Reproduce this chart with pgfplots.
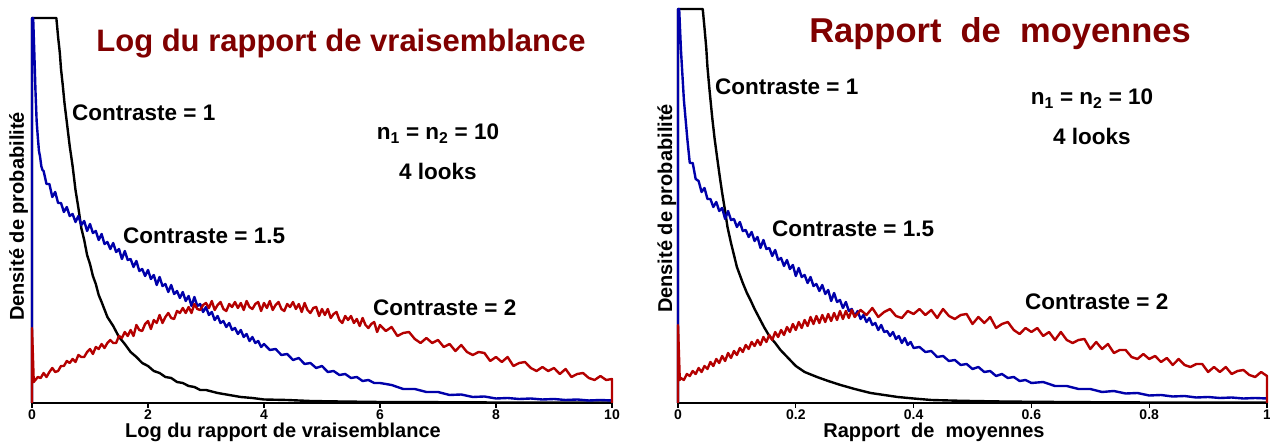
\documentclass[border=0pt]{standalone}
\usepackage{fontspec}
\setmainfont{Liberation Sans}
\usepackage{pgfplots}
\pgfplotsset{compat=1.18}
\definecolor{cblue}{RGB}{0,0,170}
\definecolor{cred}{RGB}{180,0,0}
\definecolor{ctitle}{RGB}{128,0,0}
\pgfplotsset{myax/.style={scale only axis, anchor=south west, clip=false,
  axis x line*=bottom, axis y line=none, ytick=\empty, ymin=0,
  axis line style={line width=2pt, black},
  xtick align=outside, major tick length=5pt,
  tick style={line width=1.3pt, black},
  xticklabel={\fontsize{14}{14}\selectfont\bfseries\pgfmathprintnumber[assume math mode=true]{\tick}},
  xticklabel style={inner sep=2pt}},
  curve/.style={line width=2.4pt, line join=round}}
\begin{document}
\begin{tikzpicture}
\useasboundingbox (0pt,0pt) rectangle (1270pt,444pt);
% ---------------- left axis ----------------
\begin{axis}[myax, at={(32pt,41pt)}, width=580pt, height=388pt,
  xmin=0, xmax=10, ymax=388, xtick={0,2,4,6,8,10}]
\addplot[curve, black] table {
x y
0 0
0 385
0.42 385
0.45 366
0.48 350
0.50 334
0.53 318
0.56 300
0.60 281
0.65 257
0.70 237
0.75 213
0.80 195
0.85 175
0.90 163
0.95 148
1.00 139
1.05 127
1.10 119
1.15 108
1.20 101
1.30 86
1.40 77
1.50 66
1.60 59
1.70 51
1.80 46
1.90 40
2.00 37
2.10 32
2.20 30
2.30 26
2.40 25
2.50 21
2.60 20
2.70 17
2.80 16
2.90 13
3.00 13
3.20 10
3.40 8
3.60 6
3.80 5
4.00 3.5
4.40 3
4.80 2
5.20 1.6
5.60 1.3
6.00 1
7.00 0.8
8.00 0.5
9.00 0.4
10.00 0.3
};
\addplot[curve, cblue] table {
x y
0 0
0 385
0.02 385
0.04 350
0.06 312
0.08 282
0.10 266
0.12 252
0.14 246
0.16 237
0.18 233
0.20 232
0.25 219
0.30 219
0.35 206
0.40 211
0.45 200
0.50 200
0.55 191
0.60 196
0.65 187
0.70 189
0.75 181
0.80 187
0.85 178
0.90 182
0.95 172
1.00 179
1.05 170
1.10 172
1.15 163
1.20 169
1.25 159
1.30 161
1.35 154
1.40 160
1.45 151
1.50 154
1.55 144
1.60 152
1.65 143
1.70 144
1.75 136
1.80 142
1.85 132
1.90 134
1.95 127
2.00 133
2.05 124
2.10 128
2.15 118
2.20 126
2.25 117
2.30 119
2.35 111
2.40 118
2.45 109
2.50 112
2.55 105
2.60 111
2.65 102
2.70 107
2.75 97
2.80 106
2.85 97
2.90 99
2.95 91
3.00 96
3.05 88
3.10 91
3.15 83
3.20 87
3.25 80
3.30 82
3.35 76
3.40 80
3.45 73
3.50 75
3.55 69
3.60 73
3.65 66
3.70 69
3.75 62
3.80 66
3.85 60
3.90 62
3.95 56
4.00 59
4.10 53
4.20 54
4.30 48
4.40 49
4.50 43
4.60 45
4.70 39
4.80 40
4.90 35
5.00 37
5.10 31
5.20 32
5.30 28
5.40 29
5.50 25
5.60 26
5.70 22
5.80 23
5.90 20
6.00 20
6.20 18
6.40 14
6.60 14
6.80 11
7.00 11
7.20 8
7.40 8.5
7.60 6
7.80 6.5
8.00 4.5
8.20 5
8.40 4
8.60 4.5
8.80 3.5
9.00 4
9.20 3
9.40 3.5
9.60 2.5
9.80 3
10.00 2.5
};
\addplot[curve, cred] table {
x y
0 0
0 75
0.03 21
0.10 26
0.15 25
0.20 30
0.25 26
0.30 31
0.35 35
0.40 31
0.45 32
0.50 37
0.55 37
0.60 42
0.65 40
0.70 44
0.75 41
0.80 48
0.85 46
0.90 46
0.95 51
1.00 54
1.05 49
1.10 56
1.15 54
1.20 59
1.25 55
1.30 60
1.35 63
1.40 60
1.45 60
1.50 67
1.55 65
1.60 71
1.65 67
1.70 73
1.75 67
1.80 78
1.85 73
1.90 72
1.95 79
2.00 82
2.05 74
2.10 83
2.15 80
2.20 88
2.25 80
2.30 86
2.35 90
2.40 85
2.45 84
2.50 92
2.55 90
2.60 95
2.65 90
2.70 96
2.75 90
2.80 99
2.85 94
2.90 93
2.95 98
3.00 100
3.05 95
3.10 102
3.15 93
3.20 98
3.25 101
3.30 94
3.35 92
3.40 99
3.45 96
3.50 101
3.55 95
3.60 100
3.65 93
3.70 102
3.75 96
3.80 94
3.85 99
3.90 101
3.95 92
4.00 100
4.05 95
4.10 102
4.15 93
4.20 98
4.25 101
4.30 94
4.35 92
4.40 99
4.45 96
4.50 101
4.55 94
4.60 99
4.65 91
4.70 100
4.75 93
4.80 90
4.85 95
4.90 96
4.95 87
5.00 94
5.05 88
5.10 94
5.15 85
5.20 89
5.25 91
5.30 83
5.35 80
5.40 87
5.45 83
5.50 87
5.55 80
5.60 84
5.65 77
5.70 85
5.75 78
5.80 75
5.85 79
5.90 81
5.95 71
6.00 78
6.10 72
6.20 76
6.30 67
6.40 70
6.50 71
6.60 64
6.70 60
6.80 65
6.90 60
7.00 63
7.10 56
7.20 59
7.30 52
7.40 58
7.50 51
7.60 48
7.70 51
7.80 50
7.90 42
8.00 46
8.10 41
8.20 46
8.30 37
8.40 40
8.50 41
8.60 35
8.70 32
8.80 36
8.90 32
9.00 35
9.10 29
9.20 34
9.30 26
9.40 29
9.50 30
9.60 25
9.70 23
9.80 27
9.90 23
10.00 24
10.00 0
};
\end{axis}
% ---------------- right axis ----------------
\begin{axis}[myax, at={(678pt,41pt)}, width=589pt, height=396pt,
  xmin=0, xmax=1, ymax=396, xtick={0,0.2,0.4,0.6,0.8,1}]
\addplot[curve, black] table {
x y
0 0
0 394
0.042 394
0.045 375
0.048 355
0.050 336
0.054 310
0.058 286
0.062 265
0.067 243
0.071 226
0.075 210
0.080 192
0.084 176
0.090 160
0.095 148
0.100 136
0.105 128
0.110 120
0.117 110
0.123 103
0.130 94
0.138 85
0.146 76
0.155 67
0.165 60
0.174 53
0.187 45
0.200 37
0.215 31
0.236 26
0.255 22
0.276 18
0.300 14
0.327 10
0.350 8
0.373 6
0.40 4.5
0.43 3
0.48 2.2
0.55 1.5
0.60 1.2
0.70 0.8
0.80 0.5
0.90 0.4
1.00 0.3
};
\addplot[curve, cblue] table {
x y
0 0
0 394
0.002 394
0.005 353
0.010 303
0.016 263
0.020 240
0.025 240
0.030 224
0.035 222
0.040 211
0.045 215
0.050 204
0.055 204
0.060 196
0.065 201
0.070 192
0.075 195
0.080 184
0.085 192
0.090 183
0.095 184
0.100 176
0.105 181
0.110 172
0.115 173
0.120 166
0.125 171
0.130 162
0.135 166
0.140 155
0.145 163
0.150 154
0.155 155
0.160 147
0.165 153
0.170 143
0.175 145
0.180 137
0.185 143
0.190 134
0.195 138
0.200 127
0.205 135
0.210 126
0.215 128
0.220 120
0.225 126
0.230 117
0.235 119
0.240 112
0.245 118
0.250 109
0.255 113
0.260 102
0.265 110
0.270 101
0.275 103
0.280 95
0.285 101
0.290 92
0.295 94
0.300 87
0.305 92
0.310 84
0.315 88
0.320 81
0.325 85
0.330 78
0.335 80
0.340 73
0.345 78
0.350 71
0.355 72
0.360 67
0.365 71
0.370 64
0.375 67
0.380 60
0.385 65
0.390 58
0.395 61
0.400 55
0.41 56
0.42 51
0.43 52
0.44 46
0.45 47
0.46 42
0.47 43
0.48 38
0.49 39
0.50 34
0.51 36
0.52 31
0.53 32
0.54 27
0.55 29
0.56 25
0.57 26
0.58 22
0.59 23
0.60 20
0.62 21
0.64 17
0.66 17
0.68 14
0.70 14
0.72 11
0.74 12
0.76 9.5
0.78 10
0.80 7.5
0.82 8
0.84 6.5
0.86 7
0.88 5.5
0.90 6
0.92 5
0.94 5.5
0.96 4.5
0.98 5
1.00 4.5
};
\addplot[curve, cred] table {
x y
0 0
0 78
0.003 23
0.005 25
0.010 23
0.015 29
0.020 27
0.025 32
0.030 29
0.035 35
0.040 31
0.045 37
0.050 34
0.055 41
0.060 37
0.065 44
0.070 40
0.075 47
0.080 42
0.085 50
0.090 45
0.095 52
0.100 48
0.105 55
0.110 51
0.115 58
0.120 54
0.125 61
0.130 57
0.135 63
0.140 58
0.145 66
0.150 61
0.155 68
0.160 63
0.165 71
0.170 66
0.175 73
0.180 68
0.185 76
0.190 71
0.195 79
0.200 73
0.205 81
0.210 75
0.215 83
0.220 77
0.225 86
0.230 79
0.235 87
0.240 80
0.245 88
0.250 81
0.255 89
0.260 82
0.265 90
0.270 83
0.275 92
0.280 84
0.285 92
0.290 85
0.295 93
0.300 86
0.31 93
0.32 88
0.33 95
0.34 86
0.35 91
0.36 94
0.37 87
0.38 85
0.39 92
0.40 89
0.41 94
0.42 88
0.43 93
0.44 85
0.45 94
0.46 87
0.47 84
0.48 88
0.49 89
0.50 79
0.51 86
0.52 80
0.53 86
0.54 75
0.55 79
0.56 81
0.57 73
0.58 69
0.59 75
0.60 71
0.61 75
0.62 67
0.63 71
0.64 63
0.65 71
0.66 63
0.67 60
0.68 63
0.69 64
0.70 54
0.71 61
0.72 54
0.73 59
0.74 50
0.75 53
0.76 53
0.77 46
0.78 44
0.79 49
0.80 44
0.81 47
0.82 41
0.83 45
0.84 38
0.85 44
0.86 38
0.87 36
0.88 39
0.89 39
0.90 31
0.91 36
0.92 31
0.93 36
0.94 29
0.95 32
0.96 33
0.97 28
0.98 26
0.99 31
1.00 27
1.00 0
};
\end{axis}
% ---------------- texts ----------------
\begin{scope}[every node/.style={inner sep=0pt, font=\fontsize{22.5}{22.5}\selectfont\bfseries}]
\node[anchor=base, text=ctitle, font=\fontsize{31}{31}\selectfont\bfseries] at (341pt,392pt) {Log du rapport de vraisemblance};
\node[anchor=base, text=ctitle, font=\fontsize{34.5}{34.5}\selectfont\bfseries] at (1000pt,401pt) {Rapport\ \ de\ \ moyennes};
\node[anchor=base, rotate=90, font=\fontsize{20}{20}\selectfont\bfseries] at (24pt,227.5pt) {Densité de probabilité};
\node[anchor=base, rotate=90, font=\fontsize{20}{20}\selectfont\bfseries] at (672pt,235.5pt) {Densité de probabilité};
\node[anchor=base, font=\fontsize{20}{20}\selectfont\bfseries] at (283pt,6pt) {Log du rapport de vraisemblance};
\node[anchor=base, font=\fontsize{20}{20}\selectfont\bfseries] at (934pt,6pt) {Rapport\ \ de\ \ moyennes};
\node[anchor=base west] at (72pt,323pt) {Contraste = 1};
\node[anchor=base west] at (123pt,200pt) {Contraste = 1.5};
\node[anchor=base west] at (373pt,128pt) {Contraste = 2};
\node[anchor=base] at (438pt,304pt) {n\textsubscript{1} = n\textsubscript{2} = 10};
\node[anchor=base] at (438pt,264pt) {4 looks};
\node[anchor=base west] at (715pt,349pt) {Contraste = 1};
\node[anchor=base west] at (772pt,207pt) {Contraste = 1.5};
\node[anchor=base west] at (1025pt,134pt) {Contraste = 2};
\node[anchor=base] at (1092pt,339pt) {n\textsubscript{1} = n\textsubscript{2} = 10};
\node[anchor=base] at (1092pt,299pt) {4 looks};
\end{scope}
\end{tikzpicture}
\end{document}
